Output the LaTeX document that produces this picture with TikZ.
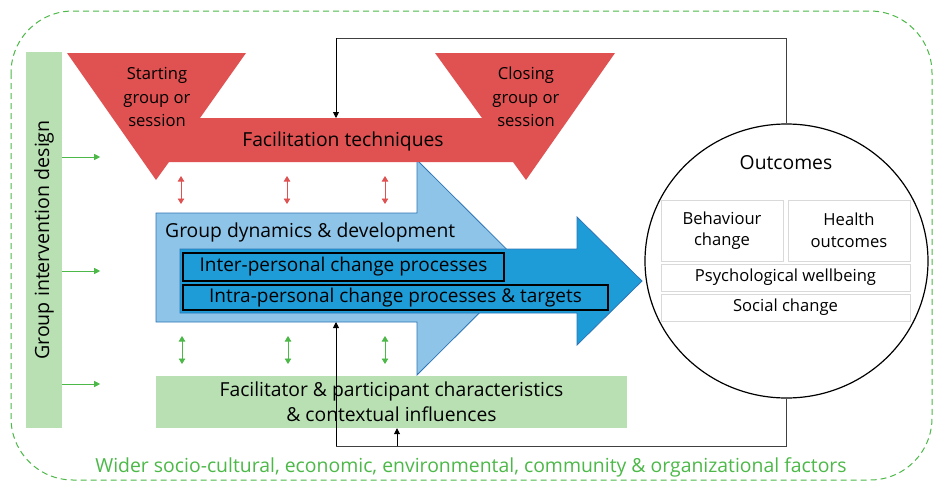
\documentclass[tikz,border=0pt]{standalone}
\usepackage{fontspec}
\setmainfont{Open Sans}
\usetikzlibrary{arrows.meta,shapes.geometric}
\definecolor{redf}{RGB}{224,82,82}
\definecolor{lblue}{RGB}{141,196,232}
\definecolor{dblue}{RGB}{30,156,216}
\definecolor{bedge}{RGB}{46,117,182}
\definecolor{lgreen}{RGB}{185,224,179}
\definecolor{tgreen}{RGB}{76,184,72}
\definecolor{gbord}{RGB}{217,217,217}
\begin{document}
\begin{tikzpicture}[x=1pt,y=-1pt,
  tip/.style={-{Triangle[length=6pt,width=6pt]}},
  dtip/.style={{Triangle[length=5.5pt,width=6.5pt]}-{Triangle[length=5.5pt,width=6.5pt]}},
  garrow/.style={tgreen,line width=0.9pt,tip},
  gdouble/.style={tgreen,line width=0.9pt,dtip},
  rdouble/.style={redf,line width=0.9pt,dtip},
  fb/.style={black!75,line width=0.9pt},
  fbarrow/.style={black,line width=0.9pt,tip},
  innerbox/.style={draw=black,line width=1.4pt,fill=dblue,inner sep=0pt},
  obox/.style={draw=gbord,line width=1pt,fill=white,inner sep=0pt,align=center,font=\fontsize{16.6}{21.5}\selectfont},
  txt/.style={inner sep=0pt,align=center},
  big/.style={font=\fontsize{19.3}{22}\selectfont}]
\useasboundingbox (0,0) rectangle (935,483);
% outer dashed frame
\draw[tgreen,dashed,line width=1pt,dash pattern=on 6pt off 4pt,rounded corners=62pt] (11,11) rectangle (932,480);
% left bar
\node[fill=lgreen,minimum width=36pt,minimum height=376pt,inner sep=0pt] (design) at (44,240) {};
\node[txt,rotate=90,font=\fontsize{19.6}{22}\selectfont] (designt) at (design.center) {Group intervention design};
% blue arrows
\fill[lblue,draw=bedge,line width=0.8pt] (156,213) -- (417,213) -- (417,160) -- (525,267.5) -- (417,375) -- (417,322) -- (156,322) -- cycle;
\fill[dblue,draw=bedge,line width=0.8pt] (180,249) -- (577,249) -- (577,217) -- (642,281) -- (577,345) -- (577,313) -- (180,313) -- cycle;
\coordinate (gdbottom) at (336,322);
\node[txt,anchor=west,big] (gdt) at (165,232) {Group dynamics \& development};
\node[innerbox,minimum width=321pt,minimum height=28pt] (inter) at (343.5,267) {};
\node[txt,font=\fontsize{19}{22}\selectfont] at (inter.center) {Inter-personal change processes};
\node[innerbox,minimum width=425pt,minimum height=25pt] (intra) at (395.5,297.5) {};
\node[txt,font=\fontsize{19}{22}\selectfont] at (intra.center) {Intra-personal change processes \& targets};
% red shape
\fill[redf] (67,53) -- (246,53) -- (200,118) -- (482,118) -- (435,53) -- (615,53) -- (526,180) -- (513,162) -- (169,162) -- (156,180) -- cycle;
\coordinate (redtop) at (336,118);
\node[txt,font=\fontsize{16.6}{23.5}\selectfont] (start) at (157,97) {Starting\\group or\\session};
\node[txt,font=\fontsize{16.6}{23.5}\selectfont] (close) at (526,97) {Closing\\group or\\session};
\node[txt,big] (fac) at (343,141) {Facilitation techniques};
% green box
\node[fill=lgreen,minimum width=471pt,minimum height=52pt,inner sep=0pt] (chars) at (391.5,402) {};
\node[txt,font=\fontsize{19.3}{25}\selectfont] at (chars.center) {Facilitator \& participant characteristics\\\& contextual influences};
% outcomes
\node[draw=black,line width=1.2pt,fill=white,ellipse,minimum width=283pt,minimum height=274pt,inner sep=0pt] (out) at (786.5,261) {};
\node[txt,big] (outt) at (786,163) {Outcomes};
\node[obox,minimum width=122pt,minimum height=61pt] (beh) at (722,230.5) {Behaviour\\change};
\node[obox,minimum width=122pt,minimum height=61pt] (hea) at (849,230.5) {Health\\outcomes};
\node[obox,minimum width=249pt,minimum height=27pt] (psy) at (785.5,277.5) {Psychological wellbeing};
\node[obox,minimum width=249pt,minimum height=27pt] (soc) at (785.5,307.5) {Social change};
% bottom text
\node[txt,text=tgreen,font=\fontsize{19.4}{22}\selectfont] (wider) at (471,467) {Wider socio-cultural, economic, environmental, community \& organizational factors};
% design arrows
\coordinate (d1) at (design.east |- 0,157);
\coordinate (d2) at (design.east |- 0,271);
\coordinate (d3) at (design.east |- 0,384);
\draw[garrow] (d1) -- ++(38,0);
\draw[garrow] (d2) -- ++(38,0);
\draw[garrow] (d3) -- ++(38,0);
% red double arrows
\foreach \x in {181,287,385}{\draw[rdouble] (\x,176) -- (\x,204);}
% green double arrows
\foreach \x in {182,288,385}{\draw[gdouble] (\x,336) -- (\x,364);}
% feedback loops
\coordinate (ltop) at (336,38);
\coordinate (lbot) at (336,446);
\draw[fb] (out.north) -- (out.north |- ltop) -- (ltop);
\draw[fbarrow] (ltop) -- (redtop);
\draw[fb] (out.south) -- (out.south |- lbot) -- (lbot);
\draw[fbarrow] (lbot) -- (gdbottom);
\coordinate (cb) at (397,446);
\draw[fbarrow] (cb) -- (chars.south -| cb);
\end{tikzpicture}
\end{document}
